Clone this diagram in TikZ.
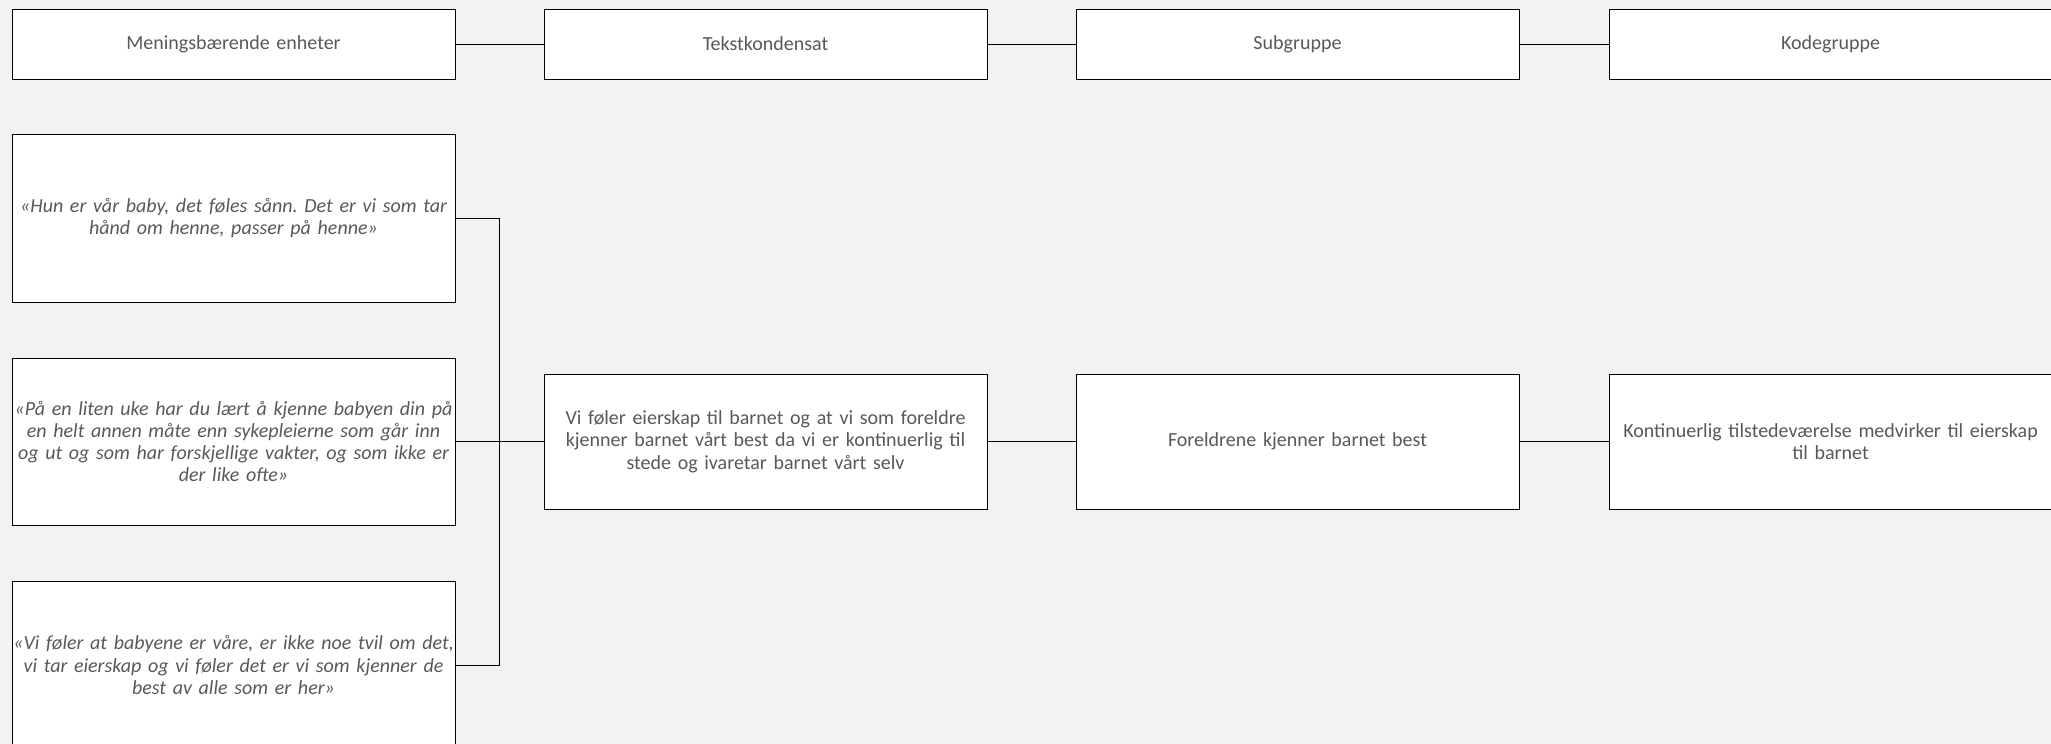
\documentclass[tikz,border=0pt]{standalone}
\usepackage{fontspec}
\setmainfont{Carlito}
\frenchspacing
\definecolor{bgc}{HTML}{F2F2F2}
\definecolor{txc}{HTML}{595959}
\begin{document}
\begin{tikzpicture}[x=1pt,y=-1pt,
  box/.style={draw=black,fill=white,line width=1pt,rectangle,inner ysep=2pt,inner xsep=-8pt,
    minimum width=443pt,text width=455pt,align=center,text=txc,
    font=\fontsize{20}{22.3}\selectfont\frenchspacing},
  quote/.style={box,font=\fontsize{20}{22.3}\selectfont\itshape\frenchspacing},
  link/.style={draw=black,line width=1pt}]
\fill[bgc] (0,0) rectangle (2051,744);
\useasboundingbox (0,0) rectangle (2051,744);
% header row
\node[box,minimum height=70pt] (h1) at (233.5,44) {Meningsbærende enheter};
\node[box,minimum height=70pt] (h2) at (765.5,44) {Tekstkondensat};
\node[box,minimum height=70pt] (h3) at (1297.5,44) {Subgruppe};
\node[box,minimum height=70pt] (h4) at (1830.5,44) {Kodegruppe};
\draw[link] (h1) -- (h2);
\draw[link] (h2) -- (h3);
\draw[link] (h3) -- (h4);
% quotes
\node[quote,minimum height=168pt] (qa) at (233.5,218) {«Hun er vår baby, det føles sånn. Det er vi som tar\\ hånd om henne, passer på henne»};
\node[quote,minimum height=167pt] (qb) at (233.5,441.5) {«På en liten uke har du lært å kjenne babyen din på\\ en helt annen måte enn sykepleierne som går inn\\ og ut og som har forskjellige vakter, og som ikke er\\ der like ofte»};
\node[quote,minimum height=168pt] (qc) at (233.5,665) {«Vi føler at babyene er våre, er ikke noe tvil om det,\\ vi tar eierskap og vi føler det er vi som kjenner de\\ best av alle som er her»};
% middle row
\node[box,minimum height=135pt] (m1) at (765.5,441.5) {Vi føler eierskap til barnet og at vi som foreldre\\ kjenner barnet vårt best da vi er kontinuerlig til\\ stede og ivaretar barnet vårt selv};
\node[box,minimum height=135pt] (m2) at (1297.5,441.5) {Foreldrene kjenner barnet best};
\node[box,minimum height=135pt] (m3) at (1830.5,441.5) {Kontinuerlig tilstedeværelse medvirker til eierskap\\ til barnet};
\coordinate (jn) at (499,441.5);
\draw[link] (qa.east) -| (jn);
\draw[link] (qc.east) -| (jn);
\draw[link] (qb.east) -- (m1.west);
\draw[link] (m1) -- (m2);
\draw[link] (m2) -- (m3);
\end{tikzpicture}
\end{document}
